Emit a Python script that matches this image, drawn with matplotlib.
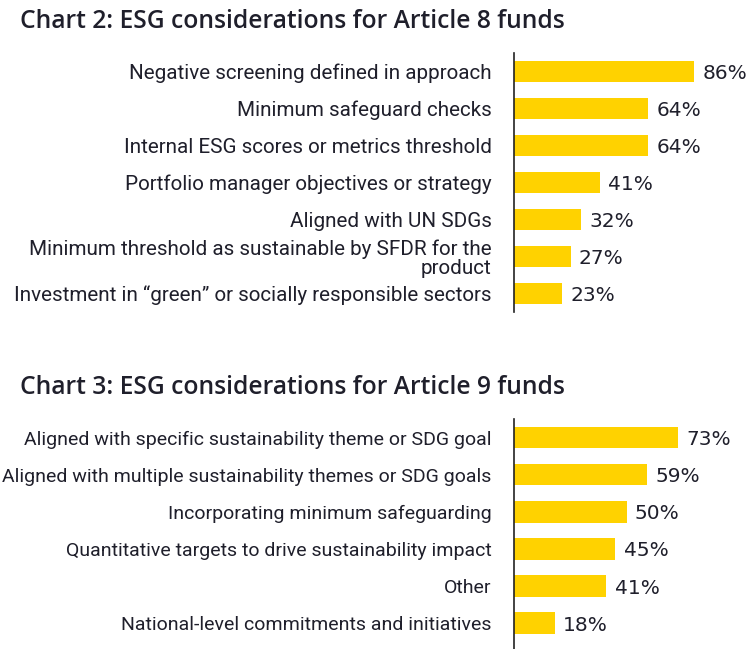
import matplotlib
matplotlib.use("Agg")
import matplotlib.pyplot as plt

# Chart 2 data
art8_labels = [
    "Negative screening defined in approach",
    "Minimum safeguard checks",
    "Internal ESG scores or metrics threshold",
    "Portfolio manager objectives or strategy",
    "Aligned with UN SDGs",
    "Minimum threshold as sustainable by SFDR for the\nproduct",
    "Investment in \u201cgreen\u201d or socially responsible sectors",
]
art8_values = [86, 64, 64, 41, 32, 27, 23]

# Chart 3 data
art9_labels = [
    "Aligned with specific sustainability theme or SDG goal",
    "Aligned with multiple sustainability themes or SDG goals",
    "Incorporating minimum safeguarding",
    "Quantitative targets to drive sustainability impact",
    "Other",
    "National-level commitments and initiatives",
]
art9_values = [73, 59, 50, 45, 41, 18]

titles = ["Chart 2: ESG considerations for Article 8 funds",
          "Chart 3: ESG considerations for Article 9 funds"]

W, H = 750, 649
yellow = "#FFD200"
dark = "#1f1f2b"

fig = plt.figure(figsize=(W / 100, H / 100), dpi=100)


def px_axes(left, top, width, height):
    return fig.add_axes([left / W, 1 - (top + height) / H, width / W, height / H])


def draw(ax, labels, values, xmax, ylim, label_size):
    pos = list(range(len(values)))
    ax.barh(pos, values, height=0.58, color=yellow)
    ax.set_xlim(0, xmax)
    ax.set_ylim(*ylim)
    ax.set_yticks(pos)
    ax.set_yticklabels(labels, fontsize=label_size, color=dark, family="Roboto",
                       linespacing=1.0)
    ax.tick_params(axis="y", length=0, pad=16)
    ax.set_xticks([])
    for s in ["top", "right", "bottom"]:
        ax.spines[s].set_visible(False)
    ax.spines["left"].set_color("#222222")
    ax.spines["left"].set_linewidth(1.2)
    for p, v in zip(pos, values):
        ax.annotate(f"{v}%", (v, p), xytext=(6, -1.5), textcoords="offset points",
                    va="center", ha="left", fontsize=14.5, color=dark)


ax1 = px_axes(514, 53, 209.3, 259)
draw(ax1, art8_labels, art8_values, 100, (6.5, -0.5), 14.9)

ax2 = px_axes(514, 419, 225, 230)
draw(ax2, art9_labels, art9_values, 100, (5.7, -0.5), 14.0)

fig.text(20 / W, 1 - 21 / H, titles[0], fontsize=17.7, fontweight="semibold",
         color=dark, va="center", ha="left", family="Open Sans")
fig.text(20 / W, 1 - 387 / H, titles[1], fontsize=17.7, fontweight="semibold",
         color=dark, va="center", ha="left", family="Open Sans")

fig.savefig("out.png", dpi=100)
